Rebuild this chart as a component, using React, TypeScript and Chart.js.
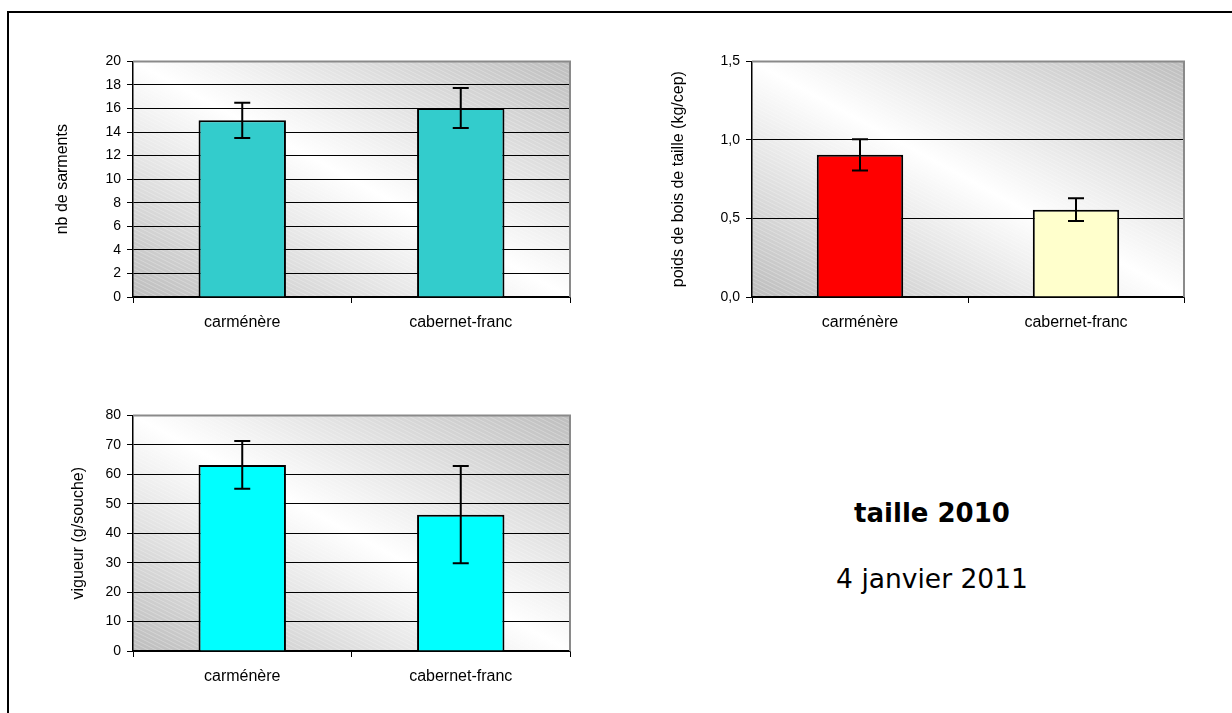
import React, { useEffect, useRef } from "react";
import { Chart, registerables } from "chart.js";

Chart.register(...registerables);

const categories = ["carménère", "cabernet-franc"];

const sarmentsValues = [15.0, 16.05];
const sarmentsErrors = [1.5, 1.7];

const poidsValues = [0.905, 0.556];
const poidsErrors = [0.1, 0.072];

const vigueurValues = [63.2, 46.3];
const vigueurErrors = [8.1, 16.5];

const FONT = "'Liberation Sans', Arial, sans-serif";

const backgroundPlugin = {
  id: "excelBackground",
  beforeDraw(chart: any) {
    const { ctx, chartArea } = chart;
    if (!chartArea) return;
    const { left, top, right, bottom } = chartArea;
    const w = right - left;
    const h = bottom - top;
    ctx.save();
    ctx.translate(left, bottom);
    ctx.scale(w, -h);
    const g = ctx.createLinearGradient(0, 0, 1, 1);
    g.addColorStop(0, "#bdbdbd");
    g.addColorStop(0.5, "#ffffff");
    g.addColorStop(1, "#bdbdbd");
    ctx.fillStyle = g;
    ctx.fillRect(0, 0, 1, 1);
    ctx.restore();
    // subtle hatch
    ctx.save();
    ctx.beginPath();
    ctx.rect(left, top, w, h);
    ctx.clip();
    ctx.strokeStyle = "rgba(255,255,255,0.28)";
    ctx.lineWidth = 1;
    ctx.beginPath();
    for (let y0 = top - w; y0 < bottom + 4; y0 += 4) {
      ctx.moveTo(left, y0);
      ctx.lineTo(right, y0 + w * 0.5);
    }
    ctx.stroke();
    ctx.restore();
  },
  afterDraw(chart: any) {
    const { ctx, chartArea } = chart;
    const { left, top, right, bottom } = chartArea;
    ctx.save();
    ctx.strokeStyle = "#8a8a8a";
    ctx.lineWidth = 2;
    ctx.beginPath();
    ctx.moveTo(left, top);
    ctx.lineTo(right, top);
    ctx.lineTo(right, bottom);
    ctx.stroke();
    ctx.restore();
  },
};

const errorBarPlugin = {
  id: "errorBars",
  afterDatasetsDraw(chart: any) {
    const { ctx } = chart;
    const yScale = chart.scales.y;
    const meta = chart.getDatasetMeta(0);
    const ds = chart.data.datasets[0] as any;
    const errs: number[] = ds.errors || [];
    ctx.save();
    ctx.strokeStyle = "#000";
    ctx.lineWidth = 2;
    meta.data.forEach((bar: any, i: number) => {
      const v = ds.data[i];
      const e = errs[i];
      const x = bar.x;
      const yt = yScale.getPixelForValue(v + e);
      const yb = yScale.getPixelForValue(v - e);
      ctx.beginPath();
      ctx.moveTo(x, yt);
      ctx.lineTo(x, yb);
      ctx.moveTo(x - 8, yt);
      ctx.lineTo(x + 8, yt);
      ctx.moveTo(x - 8, yb);
      ctx.lineTo(x + 8, yb);
      ctx.stroke();
    });
    ctx.restore();
  },
};

type BarChartProps = {
  left: number;
  top: number;
  width: number;
  height: number;
  yWidth: number;
  titlePad: number;
  title: string;
  values: number[];
  errors: number[];
  colors: string[];
  max: number;
  step: number;
  decimals: boolean;
};

function BarChart(p: BarChartProps) {
  const ref = useRef<HTMLCanvasElement | null>(null);
  useEffect(() => {
    if (!ref.current) return;
    const chart = new Chart(ref.current, {
      type: "bar",
      data: {
        labels: categories,
        datasets: [
          {
            data: p.values,
            errors: p.errors,
            backgroundColor: p.colors,
            borderColor: "#000",
            borderWidth: 2,
            barPercentage: 0.4,
            categoryPercentage: 1,
          } as any,
        ],
      },
      options: {
        animation: false,
        responsive: false,
        maintainAspectRatio: false,
        layout: { padding: { top: 10, right: 10, left: 0, bottom: 0 } },
        plugins: { legend: { display: false }, tooltip: { enabled: false } },
        scales: {
          x: {
            offset: true,
            grid: {
              display: true,
              offset: true,
              drawOnChartArea: false,
              drawTicks: true,
              tickLength: 6,
              color: "#000",
            },
            border: { color: "#000", width: 1.5 },
            ticks: { color: "#000", font: { family: FONT, size: 16 }, padding: 10 },
            afterFit: (s: any) => {
              s.height = p.height - 250;
            },
          },
          y: {
            min: 0,
            max: p.max,
            ticks: {
              stepSize: p.step,
              color: "#000",
              font: { family: FONT, size: 14 },
              padding: 6,
              callback: (v: any) =>
                p.decimals ? Number(v).toFixed(1).replace(".", ",") : String(v),
            },
            grid: {
              color: (c: any) =>
                c.tick && Math.abs(c.tick.value - p.max) < 1e-9 ? "rgba(0,0,0,0)" : "#000",
              tickColor: "#000",
              lineWidth: 1,
              tickLength: 6,
              drawTicks: true,
            },
            border: { color: "#000", width: 1.5 },
            title: {
              display: true,
              text: p.title,
              color: "#000",
              font: { family: FONT, size: 16 },
              padding: { top: p.titlePad, bottom: 0 },
            },
            afterFit: (s: any) => {
              s.width = p.yWidth;
            },
          },
        },
      },
      plugins: [backgroundPlugin, errorBarPlugin],
    });
    return () => chart.destroy();
  }, []);
  return (
    <canvas
      ref={ref}
      width={p.width}
      height={p.height}
      style={{
        position: "absolute",
        left: p.left,
        top: p.top,
        width: p.width,
        height: p.height,
      }}
    />
  );
}

export default function App() {
  return (
    <div
      style={{
        position: "fixed",
        left: 0,
        top: 0,
        width: 1232,
        height: 713,
        overflow: "hidden",
        background: "#fff",
      }}
    >
      <div
        style={{
          position: "absolute",
          left: 7,
          top: 11,
          width: 1400,
          height: 900,
          borderLeft: "2px solid #000",
          borderTop: "2px solid #000",
        }}
      />
      <BarChart
        left={40}
        top={47}
        width={540}
        height={285}
        yWidth={93}
        titlePad={13}
        title="nb de sarments"
        values={sarmentsValues}
        errors={sarmentsErrors}
        colors={["#33cccc", "#33cccc"]}
        max={20}
        step={2}
        decimals={false}
      />
      <BarChart
        left={650}
        top={47}
        width={544}
        height={285}
        yWidth={102}
        titlePad={19}
        title="poids de bois de taille (kg/cep)"
        values={poidsValues}
        errors={poidsErrors}
        colors={["#ff0000", "#ffffcc"]}
        max={1.5}
        step={0.5}
        decimals={true}
      />
      <BarChart
        left={40}
        top={401}
        width={540}
        height={285}
        yWidth={93}
        titlePad={29}
        title="vigueur (g/souche)"
        values={vigueurValues}
        errors={vigueurErrors}
        colors={["#00ffff", "#00ffff"]}
        max={80}
        step={10}
        decimals={false}
      />
      <div
        style={{
          position: "absolute",
          left: 932,
          top: 513,
          transform: "translate(-50%, -50%)",
          fontFamily: "'DejaVu Sans', Verdana, sans-serif",
          fontWeight: "bold",
          fontSize: 26,
          whiteSpace: "nowrap",
          color: "#000",
        }}
      >
        taille 2010
      </div>
      <div
        style={{
          position: "absolute",
          left: 932,
          top: 578,
          transform: "translate(-50%, -50%)",
          fontFamily: "'DejaVu Sans', Verdana, sans-serif",
          fontSize: 26.5,
          whiteSpace: "nowrap",
          color: "#000",
        }}
      >
        4 janvier 2011
      </div>
    </div>
  );
}
